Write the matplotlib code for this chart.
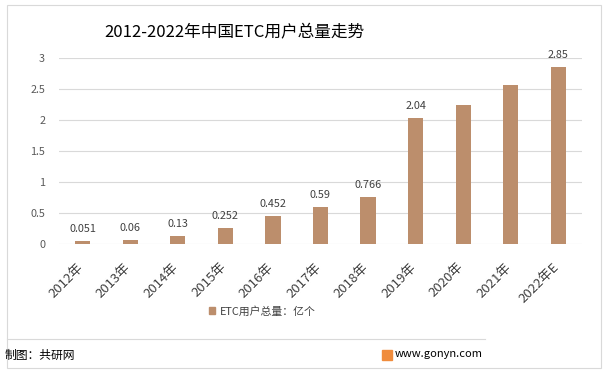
import matplotlib
matplotlib.use("Agg")
import matplotlib.pyplot as plt
import matplotlib.transforms as mtransforms
from matplotlib.patches import Rectangle
from matplotlib.lines import Line2D

plt.rcParams['font.family'] = ['Noto Sans CJK SC', 'DejaVu Sans']

categories = ["2012年", "2013年", "2014年", "2015年", "2016年", "2017年",
              "2018年", "2019年", "2020年", "2021年", "2022年E"]
values = [0.051, 0.06, 0.13, 0.252, 0.452, 0.59, 0.766, 2.04, 2.24, 2.56, 2.85]
value_labels = ["0.051", "0.06", "0.13", "0.252", "0.452", "0.59", "0.766",
                "2.04", None, None, "2.85"]
yticks = [0, 0.5, 1, 1.5, 2, 2.5, 3]
ytick_labels = ["0", "0.5", "1", "1.5", "2", "2.5", "3"]
title = "2012-2022年中国ETC用户总量走势"
legend_label = "ETC用户总量：亿个"
source = "制图：共研网"
site = "www.gonyn.com"

bar_color = "#BC8E6C"
grid_color = "#D9D9D9"
text_color = "#404040"

fig = plt.figure(figsize=(6.08, 3.77), dpi=100)
ax = fig.add_axes([59/608, 1-244/377, (582-59)/608, (244-58)/377])

x = list(range(len(categories)))
ax.bar(x, values, width=0.32, color=bar_color, zorder=3, label=legend_label)
ax.set_xlim(-0.5, len(categories)-0.5)
ax.set_ylim(0, 3)
ax.set_yticks(yticks)
ax.set_yticklabels(ytick_labels, fontsize=7.8, color="#595959")
ax.yaxis.grid(True, color=grid_color, linewidth=0.8, zorder=0)
ax.set_axisbelow(True)
for s in ax.spines.values():
    s.set_visible(False)
ax.tick_params(axis='both', length=0)
ax.tick_params(axis='y', pad=10)
ax.set_xticks(x)
ax.set_xticklabels(categories, rotation=45, ha='right', rotation_mode='anchor',
                   fontsize=9.5, color=text_color)
ax.tick_params(axis='x', pad=12)
shift = mtransforms.ScaledTranslation(-6/100, 0, fig.dpi_scale_trans)
for lbl in ax.get_xticklabels():
    lbl.set_transform(lbl.get_transform() + shift)

for xi, v, lab in zip(x, values, value_labels):
    if lab:
        ax.annotate(lab, (xi, v), xytext=(0, 5), textcoords='offset points',
                    ha='center', va='bottom', fontsize=7.8, color=text_color)

# legend
fig.legend(handles=[Rectangle((0, 0), 1, 1, color=bar_color)], labels=[legend_label],
           loc='center', bbox_to_anchor=(262/608, 1-311/377), frameon=False,
           fontsize=7.8, handlelength=0.6, handleheight=0.6, handletextpad=0.4,
           labelcolor=text_color)

# title
fig.text(234/608, 1-33/377, title, ha='center', va='center', fontsize=12,
         color="#000000")

# frames
fig.add_artist(Rectangle((7/608, 1-368/377), (601-7)/608, (368-5)/377,
                         transform=fig.transFigure, fill=False,
                         edgecolor=grid_color, linewidth=0.8))
fig.add_artist(Line2D([7/608, 485/608], [1-339/377, 1-339/377],
                      transform=fig.transFigure, color=grid_color, linewidth=0.8))

fig.text(5/608, 1-355/377, source, ha='left', va='center', fontsize=8.5, color="#000000")
fig.add_artist(Rectangle((382/608, 1-360/377), 10/608, 10/377,
                         transform=fig.transFigure, color="#F08C3C"))
fig.text(395/608, 1-354/377, site, ha='left', va='center', fontsize=8, color="#000000")

fig.savefig("out.png", dpi=100)
